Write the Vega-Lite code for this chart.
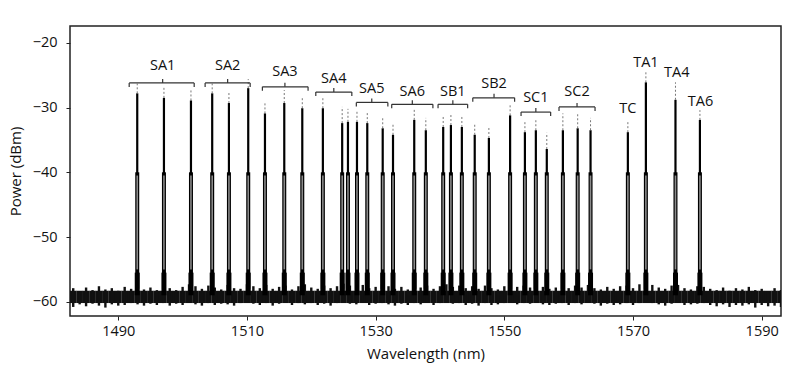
{
  "$schema": "https://vega.github.io/schema/vega-lite/v6.json",
  "width": 711,
  "height": 290,
  "autosize": {"type": "none"},
  "padding": {"left": 70, "top": 26, "right": 19, "bottom": 59},
  "background": "white",
  "config": {
    "view": {"stroke": "#222", "strokeWidth": 1.5},
    "font": "Open Sans",
    "axis": {
      "grid": false,
      "domain": false,
      "tickColor": "#222",
      "tickSize": 4,
      "labelFont": "Open Sans",
      "labelFontSize": 14.5,
      "labelColor": "#111",
      "titleFont": "Open Sans",
      "titleFontSize": 15,
      "titleFontWeight": "normal",
      "titleColor": "#111"
    }
  },
  "datasets": {
    "noise": [
      {"w": 1482, "hi": -58.3, "lo": -60.5}, {"w": 1483, "hi": -57.9, "lo": -60.8}, {"w": 1484, "hi": -58.4, "lo": -60.4},
      {"w": 1485, "hi": -57.8, "lo": -60.7}, {"w": 1486, "hi": -58.2, "lo": -60.3}, {"w": 1487, "hi": -57.6, "lo": -60.6},
      {"w": 1488, "hi": -58.1, "lo": -60.9}, {"w": 1489, "hi": -57.9, "lo": -60.4}, {"w": 1490, "hi": -58.3, "lo": -60.6},
      {"w": 1491, "hi": -57.7, "lo": -60.5}, {"w": 1492, "hi": -58.0, "lo": -60.2}, {"w": 1493, "hi": -57.5, "lo": -60.4},
      {"w": 1494, "hi": -58.1, "lo": -60.6}, {"w": 1495, "hi": -57.8, "lo": -60.3}, {"w": 1496, "hi": -58.2, "lo": -60.5},
      {"w": 1497, "hi": -57.4, "lo": -60.2}, {"w": 1498, "hi": -57.9, "lo": -60.6}, {"w": 1499, "hi": -58.2, "lo": -60.3},
      {"w": 1500, "hi": -57.7, "lo": -60.5}, {"w": 1501, "hi": -57.3, "lo": -60.1}, {"w": 1502, "hi": -57.6, "lo": -60.4},
      {"w": 1503, "hi": -58.0, "lo": -60.6}, {"w": 1504, "hi": -57.5, "lo": -60.2}, {"w": 1505, "hi": -57.8, "lo": -60.5},
      {"w": 1506, "hi": -58.1, "lo": -60.3}, {"w": 1507, "hi": -57.4, "lo": -60.4}, {"w": 1508, "hi": -57.9, "lo": -60.6},
      {"w": 1509, "hi": -58.0, "lo": -60.2}, {"w": 1510, "hi": -57.3, "lo": -60.0}, {"w": 1511, "hi": -57.6, "lo": -60.3},
      {"w": 1512, "hi": -57.9, "lo": -60.5}, {"w": 1513, "hi": -57.4, "lo": -60.2}, {"w": 1514, "hi": -58.0, "lo": -60.6},
      {"w": 1515, "hi": -57.7, "lo": -60.3}, {"w": 1516, "hi": -57.5, "lo": -60.1}, {"w": 1517, "hi": -58.1, "lo": -60.5},
      {"w": 1518, "hi": -57.6, "lo": -60.2}, {"w": 1519, "hi": -57.3, "lo": -60.4}, {"w": 1520, "hi": -57.8, "lo": -60.2},
      {"w": 1521, "hi": -58.0, "lo": -60.5}, {"w": 1522, "hi": -57.5, "lo": -60.3}, {"w": 1523, "hi": -57.9, "lo": -60.6},
      {"w": 1524, "hi": -57.6, "lo": -60.2}, {"w": 1525, "hi": -57.2, "lo": -60.0}, {"w": 1526, "hi": -57.5, "lo": -60.3},
      {"w": 1527, "hi": -57.6, "lo": -60.4}, {"w": 1528, "hi": -57.4, "lo": -60.1}, {"w": 1529, "hi": -57.9, "lo": -60.5},
      {"w": 1530, "hi": -57.7, "lo": -60.3}, {"w": 1531, "hi": -57.3, "lo": -60.2}, {"w": 1532, "hi": -57.6, "lo": -60.4},
      {"w": 1533, "hi": -58.0, "lo": -60.6}, {"w": 1534, "hi": -57.7, "lo": -60.3}, {"w": 1535, "hi": -58.1, "lo": -60.5},
      {"w": 1536, "hi": -57.4, "lo": -60.2}, {"w": 1537, "hi": -57.8, "lo": -60.4}, {"w": 1538, "hi": -57.5, "lo": -60.1},
      {"w": 1539, "hi": -58.0, "lo": -60.5}, {"w": 1540, "hi": -57.6, "lo": -60.2}, {"w": 1541, "hi": -57.3, "lo": -60.0},
      {"w": 1542, "hi": -57.7, "lo": -60.3}, {"w": 1543, "hi": -57.5, "lo": -60.2}, {"w": 1544, "hi": -57.9, "lo": -60.5},
      {"w": 1545, "hi": -57.6, "lo": -60.3}, {"w": 1546, "hi": -58.0, "lo": -60.6}, {"w": 1547, "hi": -57.5, "lo": -60.2},
      {"w": 1548, "hi": -57.9, "lo": -60.5}, {"w": 1549, "hi": -58.1, "lo": -60.4}, {"w": 1550, "hi": -57.6, "lo": -60.2},
      {"w": 1551, "hi": -57.2, "lo": -60.0}, {"w": 1552, "hi": -57.7, "lo": -60.4}, {"w": 1553, "hi": -57.5, "lo": -60.2},
      {"w": 1554, "hi": -57.8, "lo": -60.3}, {"w": 1555, "hi": -57.4, "lo": -60.1}, {"w": 1556, "hi": -57.7, "lo": -60.4},
      {"w": 1557, "hi": -58.0, "lo": -60.5}, {"w": 1558, "hi": -57.8, "lo": -60.3}, {"w": 1559, "hi": -57.4, "lo": -60.2},
      {"w": 1560, "hi": -57.9, "lo": -60.5}, {"w": 1561, "hi": -57.5, "lo": -60.2}, {"w": 1562, "hi": -57.8, "lo": -60.4},
      {"w": 1563, "hi": -57.4, "lo": -60.1}, {"w": 1564, "hi": -57.9, "lo": -60.3}, {"w": 1565, "hi": -58.1, "lo": -60.6},
      {"w": 1566, "hi": -57.7, "lo": -60.3}, {"w": 1567, "hi": -58.0, "lo": -60.5}, {"w": 1568, "hi": -57.6, "lo": -60.4},
      {"w": 1569, "hi": -57.5, "lo": -60.2}, {"w": 1570, "hi": -57.9, "lo": -60.5}, {"w": 1571, "hi": -57.3, "lo": -60.2},
      {"w": 1572, "hi": -56.8, "lo": -59.9}, {"w": 1573, "hi": -57.4, "lo": -60.2}, {"w": 1574, "hi": -57.8, "lo": -60.4},
      {"w": 1575, "hi": -58.0, "lo": -60.6}, {"w": 1576, "hi": -57.5, "lo": -60.3}, {"w": 1577, "hi": -57.4, "lo": -60.1},
      {"w": 1578, "hi": -57.9, "lo": -60.5}, {"w": 1579, "hi": -58.1, "lo": -60.4}, {"w": 1580, "hi": -57.6, "lo": -60.3},
      {"w": 1581, "hi": -57.7, "lo": -60.2}, {"w": 1582, "hi": -58.0, "lo": -60.5}, {"w": 1583, "hi": -58.2, "lo": -60.7},
      {"w": 1584, "hi": -57.8, "lo": -60.4}, {"w": 1585, "hi": -58.3, "lo": -60.8}, {"w": 1586, "hi": -57.9, "lo": -60.5},
      {"w": 1587, "hi": -58.1, "lo": -60.6}, {"w": 1588, "hi": -57.7, "lo": -60.4}, {"w": 1589, "hi": -58.2, "lo": -60.9},
      {"w": 1590, "hi": -58.0, "lo": -60.5}, {"w": 1591, "hi": -58.4, "lo": -60.7}, {"w": 1592, "hi": -57.9, "lo": -60.6},
      {"w": 1593, "hi": -58.2, "lo": -60.8}
    ],
    "peaks": [
      {"group": "SA1", "w": 1492.95, "top": -27.8, "dtop": -26.3},
      {"group": "SA1", "w": 1497.1, "top": -28.5, "dtop": -26.9},
      {"group": "SA1", "w": 1501.3, "top": -28.9, "dtop": -27.3},
      {"group": "SA2", "w": 1504.6, "top": -27.8, "dtop": -26.3},
      {"group": "SA2", "w": 1507.2, "top": -29.3, "dtop": -27.6},
      {"group": "SA2", "w": 1510.2, "top": -27.0, "dtop": -25.6},
      {"group": "SA3", "w": 1512.8, "top": -30.9, "dtop": -29.2},
      {"group": "SA3", "w": 1515.8, "top": -29.3, "dtop": -27.3},
      {"group": "SA3", "w": 1518.6, "top": -30.1, "dtop": -28.4},
      {"group": "SA4", "w": 1521.8, "top": -30.1, "dtop": -28.4},
      {"group": "SA4", "w": 1524.8, "top": -32.4, "dtop": -29.9},
      {"group": "SA4", "w": 1525.7, "top": -32.2, "dtop": -30.2},
      {"group": "SA5", "w": 1527.1, "top": -32.2, "dtop": -30.4},
      {"group": "SA5", "w": 1528.7, "top": -32.4, "dtop": -30.6},
      {"group": "SA5", "w": 1531.1, "top": -33.2, "dtop": -31.4},
      {"group": "SA6", "w": 1532.7, "top": -34.2, "dtop": -32.6},
      {"group": "SA6", "w": 1536.0, "top": -31.9, "dtop": -30.2},
      {"group": "SA6", "w": 1537.8, "top": -33.5, "dtop": -31.6},
      {"group": "SB1", "w": 1540.5, "top": -33.0, "dtop": -31.3},
      {"group": "SB1", "w": 1541.7, "top": -32.7, "dtop": -31.0},
      {"group": "SB1", "w": 1543.4, "top": -33.0, "dtop": -31.3},
      {"group": "SB2", "w": 1545.4, "top": -34.2, "dtop": -32.6},
      {"group": "SB2", "w": 1547.6, "top": -34.7, "dtop": -32.9},
      {"group": "SB2", "w": 1550.9, "top": -31.2, "dtop": -29.6},
      {"group": "SC1", "w": 1553.2, "top": -33.8, "dtop": -32.2},
      {"group": "SC1", "w": 1554.9, "top": -33.5, "dtop": -31.7},
      {"group": "SC1", "w": 1556.6, "top": -36.4, "dtop": -33.9},
      {"group": "SC2", "w": 1559.1, "top": -33.5, "dtop": -30.9},
      {"group": "SC2", "w": 1561.4, "top": -33.2, "dtop": -30.9},
      {"group": "SC2", "w": 1563.4, "top": -33.5, "dtop": -31.6},
      {"group": "TC", "w": 1569.2, "top": -33.8, "dtop": -32.0},
      {"group": "TA1", "w": 1572.0, "top": -26.1, "dtop": -24.5},
      {"group": "TA4", "w": 1576.6, "top": -28.8, "dtop": -26.1},
      {"group": "TA6", "w": 1580.4, "top": -31.9, "dtop": -30.4}
    ],
    "brackets": [
      {"group": "SA1", "x1": 1491.7, "x2": 1501.8, "xc": 1496.9, "y": -26.2},
      {"group": "SA2", "x1": 1503.5, "x2": 1510.5, "xc": 1507.0, "y": -26.2},
      {"group": "SA3", "x1": 1512.4, "x2": 1519.5, "xc": 1515.9, "y": -26.8},
      {"group": "SA4", "x1": 1520.7, "x2": 1526.3, "xc": 1523.5, "y": -27.6},
      {"group": "SA5", "x1": 1527.0, "x2": 1531.9, "xc": 1529.4, "y": -29.2},
      {"group": "SA6", "x1": 1532.5, "x2": 1538.9, "xc": 1535.7, "y": -29.5},
      {"group": "SB1", "x1": 1539.7, "x2": 1544.3, "xc": 1542.0, "y": -29.5},
      {"group": "SB2", "x1": 1545.1, "x2": 1551.6, "xc": 1548.4, "y": -28.5},
      {"group": "SC1", "x1": 1552.6, "x2": 1557.2, "xc": 1554.9, "y": -30.7},
      {"group": "SC2", "x1": 1558.5, "x2": 1564.1, "xc": 1561.3, "y": -29.9}
    ],
    "labels": [
      {"label": "SA1", "w": 1496.9, "p": -23.6},
      {"label": "SA2", "w": 1507.0, "p": -23.6},
      {"label": "SA3", "w": 1515.9, "p": -24.5},
      {"label": "SA4", "w": 1523.5, "p": -25.6},
      {"label": "SA5", "w": 1529.4, "p": -27.1},
      {"label": "SA6", "w": 1535.7, "p": -27.6},
      {"label": "SB1", "w": 1542.0, "p": -27.6},
      {"label": "SB2", "w": 1548.4, "p": -26.4},
      {"label": "SC1", "w": 1554.9, "p": -28.5},
      {"label": "SC2", "w": 1561.3, "p": -27.6},
      {"label": "TC", "w": 1569.2, "p": -30.2},
      {"label": "TA1", "w": 1572.0, "p": -23.1},
      {"label": "TA4", "w": 1576.8, "p": -24.7},
      {"label": "TA6", "w": 1580.5, "p": -29.2}
    ]
  },
  "encoding": {
    "x": {
      "type": "quantitative",
      "scale": {"domain": [1482.5, 1593], "nice": false, "zero": false},
      "axis": {"values": [1490, 1510, 1530, 1550, 1570, 1590], "title": "Wavelength (nm)", "labelPadding": 4, "titlePadding": 9, "format": "d"}
    },
    "y": {
      "type": "quantitative",
      "scale": {"domain": [-62.2, -17.4], "nice": false, "zero": false},
      "axis": {"values": [-60, -50, -40, -30, -20], "title": "Power (dBm)", "labelPadding": 9, "titlePadding": 9}
    }
  },
  "layer": [
    {
      "data": {"name": "noise"},
      "mark": {"type": "rule", "color": "#111", "strokeWidth": 6.6, "clip": true},
      "encoding": {
        "x": {"field": "w", "type": "quantitative"},
        "y": {"datum": -58.3},
        "y2": {"datum": -60.2}
      }
    },
    {
      "data": {"name": "noise"},
      "mark": {"type": "rule", "color": "#111", "strokeWidth": 2.4, "clip": true},
      "encoding": {
        "x": {"field": "w", "type": "quantitative"},
        "y": {"field": "hi", "type": "quantitative"},
        "y2": {"field": "lo"}
      }
    },
    {
      "data": {"name": "peaks"},
      "mark": {"type": "rule", "color": "#000", "strokeWidth": 5},
      "encoding": {
        "x": {"field": "w", "type": "quantitative"},
        "y": {"datum": -59},
        "y2": {"datum": -55.5}
      }
    },
    {
      "data": {"name": "peaks"},
      "mark": {"type": "rule", "color": "#000", "strokeWidth": 2.2},
      "encoding": {
        "x": {"field": "w", "type": "quantitative"},
        "y": {"field": "top", "type": "quantitative"},
        "y2": {"datum": -58}
      }
    },
    {
      "data": {"name": "peaks"},
      "mark": {"type": "rule", "color": "#000", "strokeWidth": 4},
      "encoding": {
        "x": {"field": "w", "type": "quantitative"},
        "y": {"datum": -40},
        "y2": {"datum": -58}
      }
    },
    {
      "data": {"name": "peaks"},
      "mark": {"type": "rule", "color": "#8a8a8a", "strokeWidth": 1.6},
      "encoding": {
        "x": {"field": "w", "type": "quantitative"},
        "y": {"datum": -40.5},
        "y2": {"datum": -55}
      }
    },
    {
      "data": {"name": "peaks"},
      "mark": {"type": "rule", "color": "#777", "strokeWidth": 1, "strokeDash": [2, 2]},
      "encoding": {
        "x": {"field": "w", "type": "quantitative"},
        "y": {"field": "top", "type": "quantitative"},
        "y2": {"field": "dtop"}
      }
    },
    {
      "data": {"name": "brackets"},
      "mark": {"type": "rule", "color": "#333", "strokeWidth": 1.2},
      "encoding": {
        "x": {"field": "x1", "type": "quantitative"},
        "x2": {"field": "x2"},
        "y": {"field": "y", "type": "quantitative"}
      }
    },
    {
      "data": {"name": "brackets"},
      "mark": {"type": "rule", "color": "#333", "strokeWidth": 1.2, "y2Offset": 4},
      "encoding": {
        "x": {"field": "x1", "type": "quantitative"},
        "y": {"field": "y", "type": "quantitative"},
        "y2": {"field": "y"}
      }
    },
    {
      "data": {"name": "brackets"},
      "mark": {"type": "rule", "color": "#333", "strokeWidth": 1.2, "y2Offset": 4},
      "encoding": {
        "x": {"field": "x2", "type": "quantitative"},
        "y": {"field": "y", "type": "quantitative"},
        "y2": {"field": "y"}
      }
    },
    {
      "data": {"name": "brackets"},
      "mark": {"type": "rule", "color": "#333", "strokeWidth": 1.2, "y2Offset": -4},
      "encoding": {
        "x": {"field": "xc", "type": "quantitative"},
        "y": {"field": "y", "type": "quantitative"},
        "y2": {"field": "y"}
      }
    },
    {
      "data": {"name": "labels"},
      "mark": {"type": "text", "font": "Open Sans", "fontSize": 14.5, "color": "#111", "baseline": "middle", "align": "center"},
      "encoding": {
        "x": {"field": "w", "type": "quantitative"},
        "y": {"field": "p", "type": "quantitative"},
        "text": {"field": "label"}
      }
    }
  ]
}
